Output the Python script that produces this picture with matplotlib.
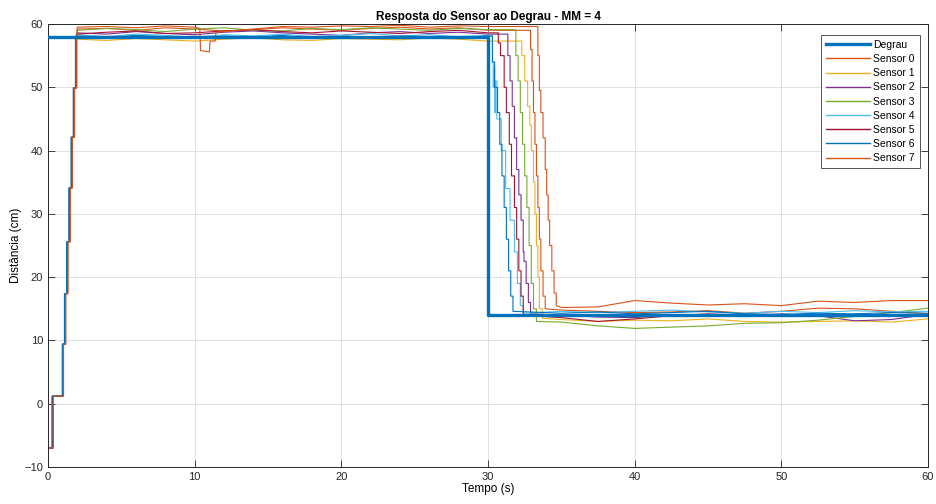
import numpy as np
import matplotlib
matplotlib.use('Agg')
import matplotlib.pyplot as plt

plt.rcParams['font.family'] = ['Liberation Sans', 'DejaVu Sans']

# degrau de referencia
degrau_t = [0, 30, 60]
degrau_y = [58, 14, 14]

sensores = ['Sensor 0', 'Sensor 1', 'Sensor 2', 'Sensor 3',
            'Sensor 4', 'Sensor 5', 'Sensor 6', 'Sensor 7']
cores = ['#D95319', '#EDB120', '#7E2F8E', '#77AC30',
         '#4DBEEE', '#A2142F', '#0072BD', '#D95319']

# subida inicial (degraus do filtro)
subida_t = [0, 0.3, 1.0, 1.15, 1.3, 1.45, 1.6, 1.75, 1.9]
subida_y = [-7, 1.2, 9.4, 17.4, 25.6, 34.1, 42.1, 49.9, 58.0]
atraso = [0.05, 0.02, 0.0, 0.01, 0.0, 0.02, -0.03, 0.06]

# patamar superior
patamar_t = [2, 4, 6, 8, 10, 12, 14, 16, 18, 20, 22, 24, 26, 28, 30]
patamar = [
    [59.2, 59.3, 59.0, 59.4, 59.2, 58.9, 59.1, 59.4, 59.2, 59.0, 59.3, 59.5, 59.2, 59.4, 59.0],
    [57.6, 57.4, 57.7, 57.5, 57.3, 57.6, 57.8, 57.5, 57.4, 57.7, 57.6, 57.5, 57.8, 57.6, 57.3],
    [58.6, 58.4, 58.8, 58.5, 58.3, 58.7, 58.9, 58.6, 58.4, 58.2, 58.6, 58.8, 58.5, 58.7, 58.4],
    [59.0, 59.3, 59.1, 58.8, 59.2, 59.4, 59.0, 58.9, 59.3, 59.1, 59.4, 59.2, 59.0, 59.3, 59.1],
    [58.3, 58.0, 58.4, 58.2, 57.9, 58.3, 58.1, 58.4, 58.0, 58.2, 58.5, 58.1, 58.3, 58.0, 58.2],
    [58.4, 58.7, 58.9, 58.5, 58.6, 58.9, 59.1, 58.8, 58.6, 58.9, 58.7, 58.5, 58.8, 59.0, 58.6],
    [58.1, 57.9, 58.2, 58.0, 57.8, 58.1, 57.9, 58.2, 57.7, 58.0, 57.9, 58.1, 58.0, 57.8, 58.1],
    [59.5, 59.6, 59.4, 59.7, 59.5, 58.8, 59.2, 59.6, 59.5, 59.7, 59.6, 59.8, 59.5, 59.7, 59.6],
]

# queda do sensor 7 perto de t = 10 s
queda7_t = [10.35, 10.4, 11.0, 11.05, 11.4, 11.45]
queda7_y = [59.3, 55.8, 55.6, 57.3, 57.3, 58.7]

# descida (degraus) depois de t = 30 s
descida_t = [
    [32.9, 33.0, 33.1, 33.2, 33.3, 33.4, 33.5, 33.6, 33.75, 33.9],
    [32.3, 32.5, 32.7, 32.85, 32.95, 33.1, 33.2, 33.3, 33.4, 33.5, 33.7],
    [31.35, 31.5, 31.65, 31.8, 31.95, 32.1, 32.25, 32.4, 32.45, 32.6, 32.75, 32.9],
    [31.9, 32.05, 32.2, 32.35, 32.5, 32.65, 32.8, 32.95, 33.1, 33.3],
    [30.3, 30.35, 30.4, 30.45, 30.5, 30.6, 30.9, 31.2, 31.5, 31.8, 32.0, 32.2, 32.4],
    [30.7, 30.85, 31.1, 31.25, 31.45, 31.6, 31.8, 31.95, 32.1, 32.25, 32.4],
    [30.3, 30.45, 30.65, 30.8, 30.95, 31.1, 31.25, 31.4, 31.55, 31.7],
    [33.4, 33.5, 33.6, 33.75, 33.9, 34.0, 34.1, 34.2, 34.35, 34.5, 34.65],
]
descida_y = [
    [56, 51, 46, 41, 36, 31, 26, 21, 17, 15],
    [55, 51, 47, 44, 40, 35, 30, 25, 20, 15, 13.5],
    [55, 51, 47, 42, 37, 33, 29, 24, 22.5, 19, 16, 14.2],
    [55, 51, 46, 41, 36, 31, 25, 19, 15, 13],
    [54, 50, 53, 46, 51, 45, 40, 34, 29, 24, 19, 15.5, 14.3],
    [57, 55, 50, 46, 41, 36, 31, 26, 21, 17, 14],
    [54, 50, 46, 41, 36, 31, 26, 21, 17, 14.6],
    [55, 49.5, 46, 42, 37, 33, 29, 25, 21, 17.5, 15.5],
]

# patamar inferior
final_t = [35, 37.5, 40, 42.5, 45, 47.5, 50, 52.5, 55, 57.5, 60]
final = [
    [14.8, 14.6, 14.4, 14.5, 14.7, 14.3, 14.6, 15.1, 15.0, 14.6, 14.2],
    [13.3, 13.0, 13.2, 13.1, 13.4, 13.0, 12.9, 13.0, 13.1, 12.9, 13.4],
    [14.0, 13.7, 13.6, 14.1, 14.0, 13.8, 14.2, 13.9, 13.1, 13.3, 14.1],
    [12.9, 12.3, 11.9, 12.1, 12.3, 12.7, 12.8, 13.2, 13.8, 14.4, 15.1],
    [14.6, 14.4, 14.6, 14.8, 14.5, 14.3, 14.6, 14.4, 14.7, 14.5, 14.6],
    [13.6, 13.0, 13.4, 13.9, 14.2, 14.0, 13.8, 14.1, 14.0, 13.9, 14.0],
    [14.3, 14.5, 14.2, 14.4, 14.6, 14.2, 14.1, 14.3, 14.2, 14.4, 14.3],
    [15.2, 15.3, 16.3, 15.9, 15.6, 15.8, 15.5, 16.2, 16.0, 16.3, 16.3],
]


def escada(ts, ys):
    # vertices de um sinal em degraus (mantem o valor ate o proximo instante)
    ts = np.asarray(ts, float)
    ys = np.asarray(ys, float)
    x = np.repeat(ts, 2)[1:]
    y = np.repeat(ys, 2)[:-1]
    return x, y


fig = plt.figure(figsize=(9.36, 5.04), dpi=100)
ax = fig.add_axes([0.0513, 0.0734, 0.9402, 0.879])

ax.plot(degrau_t, degrau_y, drawstyle='steps-post', color='#0072BD',
        lw=2.4, label='Degrau', zorder=3)

for i in range(8):
    xs, ys = escada(np.array(subida_t) + atraso[i] * (np.arange(len(subida_t)) > 0), subida_y)
    pt = list(patamar_t)
    py = list(patamar[i])
    if i == 7:
        pt = pt + queda7_t
        py = py + queda7_y
        ordem = np.argsort(pt, kind='stable')
        pt = list(np.array(pt)[ordem])
        py = list(np.array(py)[ordem])
    # mantem o patamar ate o inicio da descida
    dx, dy = escada([descida_t[i][0]] + descida_t[i], [py[-1]] + descida_y[i])
    x = np.concatenate([xs, pt, dx, final_t])
    y = np.concatenate([ys, py, dy, final[i]])
    ax.plot(x, y, color=cores[i], lw=0.8, label=sensores[i], zorder=2)

ax.set_xlim(0, 60)
ax.set_ylim(-10, 60)
ax.set_xticks(range(0, 61, 10))
ax.set_yticks(range(-10, 61, 10))
ax.grid(True, color='#e0e0e0', lw=0.7)
ax.set_axisbelow(True)
ax.tick_params(direction='in', top=True, right=True, length=5,
               labelsize=8, colors='#262626', width=0.6)
for s in ax.spines.values():
    s.set_color('#262626')
    s.set_linewidth(0.7)

ax.set_title('Resposta do Sensor ao Degrau - MM = 4', fontsize=8.5,
             fontweight='bold', pad=3)
ax.set_xlabel('Tempo (s)', fontsize=8.5, labelpad=1)
ax.set_ylabel('Distância (cm)', fontsize=8.5, labelpad=2)

leg = ax.legend(loc='upper right', fontsize=7.5, frameon=True, fancybox=False,
                edgecolor='#262626', handlelength=4.3, borderpad=0.45,
                labelspacing=0.4, handletextpad=0.3,
                bbox_to_anchor=(0.9965, 0.9865))
leg.get_frame().set_linewidth(0.7)
for ln in leg.get_lines()[1:]:
    ln.set_linewidth(1.0)

plt.savefig('out.png', dpi=100)
